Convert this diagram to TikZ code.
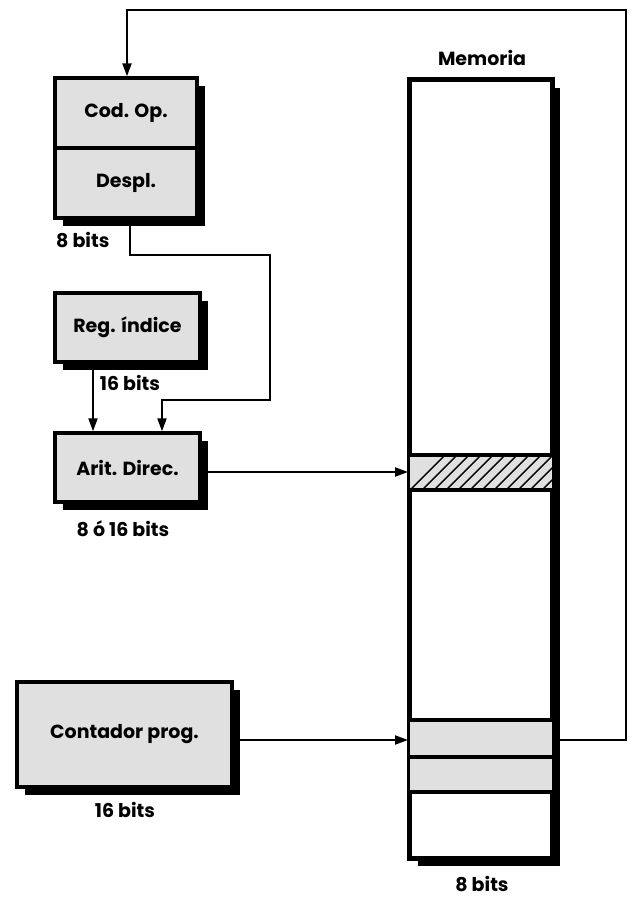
\documentclass[tikz,border=0pt]{standalone}
\usepackage{fontspec}
\setmainfont{Poppins}
\usetikzlibrary{arrows.meta,shadows,calc}
\definecolor{boxgray}{gray}{0.88}
\begin{document}
\begin{tikzpicture}[x=1pt,y=-1pt,
  lbl/.style={font=\bfseries\fontsize{19}{22}\selectfont, inner sep=0pt},
  regbox/.style={draw, line width=3.4pt, fill=boxgray, inner sep=0pt,
    font=\bfseries\fontsize{19}{22}\selectfont,
    drop shadow={shadow xshift=8pt, shadow yshift=-8pt, fill=black, opacity=1}},
  membox/.style={draw, line width=3.4pt, fill=white, inner sep=0pt,
    drop shadow={shadow xshift=8pt, shadow yshift=-8pt, fill=black, opacity=1}},
  conn/.style={line width=2pt, -{Triangle[length=13pt,width=9pt]}},
  rowline/.style={line width=3.2pt}]
\useasboundingbox (0,0) rectangle (632,899);

% registers
\node[regbox, minimum width=142pt, minimum height=70pt] (cod) at (126,113) {Cod. Op.};
\node[regbox, minimum width=142pt, minimum height=70pt] (desp) at (126,183) {Despl.};
\node[regbox, minimum width=145pt, minimum height=69pt] (reg) at (127.5,327.5) {Reg. índice};
\node[regbox, minimum width=145pt, minimum height=69pt] (arit) at (127.5,467.5) {Arit. Direc.};
\node[regbox, minimum width=215pt, minimum height=105pt] (cont) at (124.5,734.5) {Contador prog.};

% memory
\node[membox, minimum width=142pt, minimum height=778pt] (mem) at (481,469) {};
\coordinate (hatT) at (410,455);
\coordinate (hatB) at (552,490);
\begin{scope}
  \clip (hatT) rectangle (hatB);
  \fill[boxgray] (hatT) rectangle (hatB);
  \foreach \i in {0,...,14} {
    \draw[line width=1.4pt] ($(400,500)+(\i*12,0)$) -- ++(50,-50);
  }
\end{scope}
\draw[rowline] (410,455) -- (552,455);
\draw[rowline] (410,490) -- (552,490);
\fill[boxgray] (410,720) rectangle (552,792);
\draw[rowline] (410,720) -- (552,720);
\draw[rowline] (410,757) -- (552,757);
\draw[rowline] (410,792) -- (552,792);
\draw[line width=3.4pt] (mem.north west) rectangle (mem.south east);
\coordinate (hrow) at (408,472);
\coordinate (prow) at (408,740);
\coordinate (prowR) at (552,740);

% labels
\node[lbl, anchor=west] (l8a) at (56,240) {8 bits};
\node[lbl] (l16a) at (130,383) {16 bits};
\node[lbl] (l816) at (123,529) {8 ó 16 bits};
\node[lbl] (l16b) at (125,810) {16 bits};
\node[lbl] (lmem) at (482,58) {Memoria};
\node[lbl] (l8b) at (482,884) {8 bits};

% connectors
\coordinate (dsp) at (130,218);
\coordinate (b1) at (162,400);
\coordinate (b2) at (93,300);
\coordinate (top) at (127,10);
\draw[conn] (dsp) |- (270,255) |- (b1) -- (b1 |- arit.north);
\draw[conn] (b2 |- reg.south) -- (b2 |- arit.north);
\draw[conn] (arit.east |- hrow) -- (hrow);
\draw[conn] (cont.east |- prow) -- (prow);
\draw[conn] (prowR) -| (626,10) -- (top) -- (top |- cod.north);
\end{tikzpicture}
\end{document}
